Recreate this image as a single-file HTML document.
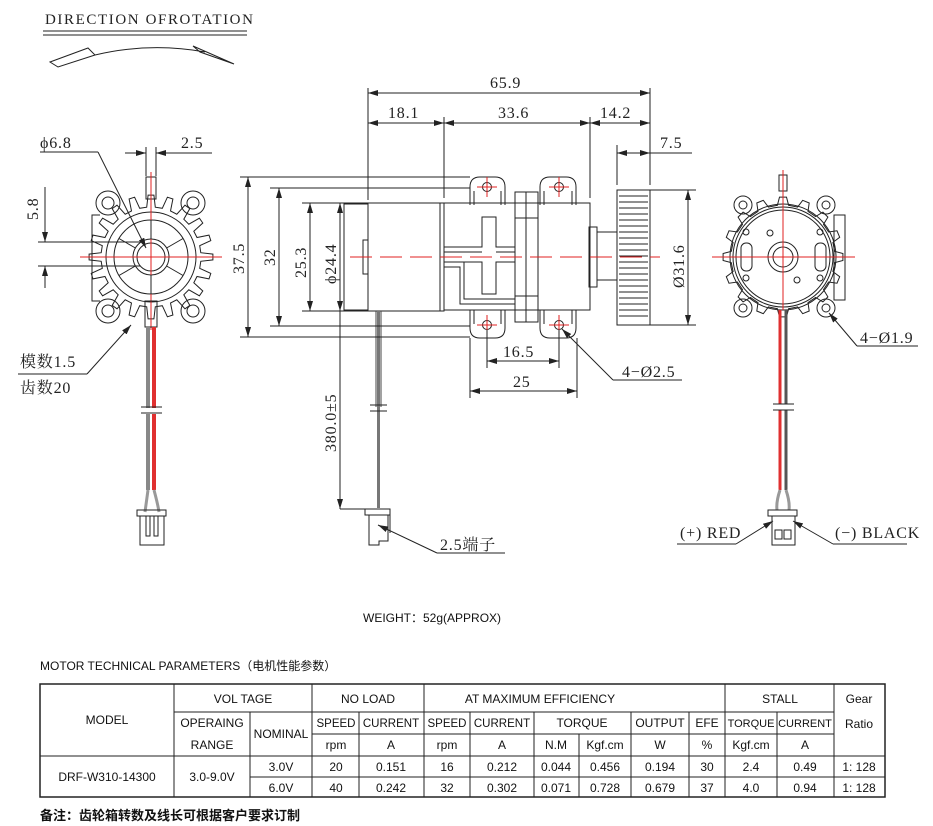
<!DOCTYPE html>
<html><head><meta charset="utf-8"><style>
html,body{margin:0;padding:0;background:#fff;}
svg{display:block;}
.s{font-family:"Liberation Serif","Noto Serif CJK SC",serif;font-size:16px;fill:#222;letter-spacing:0.8px;}
.t{font-family:"Liberation Sans","Noto Sans CJK SC",sans-serif;font-size:12px;fill:#111;}
.k{stroke:#222;fill:none;stroke-width:1;}
.r{stroke:#e02020;fill:none;stroke-width:1;}
</style></head><body>
<svg id="sv" width="933" height="826" viewBox="0 0 933 826" xmlns="http://www.w3.org/2000/svg">
<defs>
<marker id="a" viewBox="0 0 10 6" refX="10" refY="3" markerWidth="10" markerHeight="6" orient="auto-start-reverse" markerUnits="userSpaceOnUse"><path d="M0,0 L10,3 L0,6 z" fill="#222"/></marker>
</defs>
<text x="45" y="24" class="s" style="font-size:15px;letter-spacing:1.6px">DIRECTION OFROTATION</text>
<line x1="43" y1="31" x2="247" y2="31" class="k"/><line x1="43" y1="35" x2="247" y2="35" class="k"/>
<path d="M50,62 L88,48 L95,55 L58,67 Z M95,55 Q150,42 205,52 M193,46 L200,52 L234,64 Z" class="k"/>

<g id="lg">
<path d="M100,215 h-8 v86 h8" class="k"/>
<g id="gearL"></g>
<circle cx="151" cy="257" r="45" class="k"/>
<circle cx="151" cy="257" r="37" class="k"/>
<circle cx="151" cy="257" r="14" class="k"/>
<circle cx="151" cy="257" r="18" class="k"/>
<circle cx="108" cy="203" r="12" class="k" fill="#fff"/><circle cx="108" cy="203" r="6" class="k"/>
<circle cx="193" cy="203" r="12" class="k" fill="#fff"/><circle cx="193" cy="203" r="6" class="k"/>
<circle cx="108" cy="311" r="12" class="k" fill="#fff"/><circle cx="108" cy="311" r="6" class="k"/>
<circle cx="193" cy="311" r="12" class="k" fill="#fff"/><circle cx="193" cy="311" r="6" class="k"/>
<rect x="146" y="177" width="10" height="22" class="k" fill="#fff"/>
<line x1="151" y1="172" x2="151" y2="330" class="r"/>
<line x1="80" y1="257" x2="222" y2="257" class="r"/>
<line x1="146" y1="147" x2="146" y2="176" class="k"/><line x1="156" y1="147" x2="156" y2="176" class="k"/>
<line x1="125" y1="153" x2="146" y2="153" class="k" marker-end="url(#a)"/><line x1="177" y1="153" x2="156" y2="153" class="k" marker-end="url(#a)"/>
<line x1="156" y1="153" x2="212" y2="153" class="k"/>
<text x="181" y="148" class="s">2.5</text>
<text x="40" y="148" class="s">ϕ6.8</text>
<line x1="40" y1="152" x2="98" y2="152" class="k"/>
<line x1="98" y1="152" x2="146" y2="248" class="k" marker-end="url(#a)"/>
<line x1="38" y1="242" x2="145" y2="242" class="k"/><line x1="38" y1="266" x2="140" y2="266" class="k"/>
<line x1="45" y1="187" x2="45" y2="242" class="k" marker-end="url(#a)"/>
<line x1="45" y1="288" x2="45" y2="266" class="k" marker-end="url(#a)"/>
<text x="0" y="0" class="s" transform="translate(38,220) rotate(-90)">5.8</text>
<rect x="145" y="301" width="12" height="26" class="k"/>
<line x1="148" y1="327" x2="148" y2="408" stroke="#888" stroke-width="4"/>
<line x1="154" y1="327" x2="154" y2="408" stroke="#e03030" stroke-width="4"/>
<line x1="148" y1="414" x2="148" y2="490" stroke="#888" stroke-width="4"/>
<line x1="154" y1="414" x2="154" y2="490" stroke="#e03030" stroke-width="4"/>
<path d="M148,490 Q146,505 145,512 M154,490 Q158,505 159,512" stroke="#999" stroke-width="3" fill="none"/>
<line x1="141" y1="407" x2="162" y2="407" class="k"/><line x1="141" y1="413" x2="162" y2="413" class="k"/>
<rect x="137" y="510" width="29" height="6" class="k"/>
<rect x="140" y="516" width="24" height="29" class="k"/>
<path d="M146,516 v20 h4 v-20 M154,516 v20 h4 v-20" class="k"/>
<text x="20" y="367" class="s">模数1.5</text>
<line x1="18" y1="374" x2="87" y2="374" class="k"/>
<line x1="87" y1="374" x2="131" y2="325" class="k" marker-end="url(#a)"/>
<text x="20" y="393" class="s">齿数20</text>
</g>

<g>
<rect x="368" y="203" width="76" height="108" class="k"/>
<rect x="344" y="204" width="24" height="106" class="k"/>
<path d="M368,240 h-5 v34 h5" class="k"/>
<line x1="440" y1="203" x2="440" y2="311" class="k"/>
<rect x="444" y="203" width="146" height="107" class="k"/>
<path d="M444,247 h38 v-30 h14 v30 h19 M444,252 h38 M496,252 h19 M444,262 h20 v37 h51 M444,267 h16 v37 h55 M464,262 h18 v32 h14 v-32 h19" class="k"/>
<rect x="515" y="192" width="23" height="130" class="k" fill="#fff"/>
<line x1="526" y1="192" x2="526" y2="322" class="k"/>
<line x1="515" y1="218" x2="538" y2="218" class="k"/><line x1="515" y1="296" x2="538" y2="296" class="k"/>
<path d="M470,205 v-18 q0,-10 10,-10 h15 q10,0 10,10 v18" class="k" fill="#fff"/>
<path d="M540,205 v-18 q0,-10 10,-10 h16 q10,0 10,10 v18" class="k" fill="#fff"/>
<path d="M470,310 v18 q0,10 10,10 h15 q10,0 10,-10 v-18" class="k" fill="#fff"/>
<path d="M540,310 v18 q0,10 10,10 h16 q10,0 10,-10 v-18" class="k" fill="#fff"/>
<path d="M474,205 v-14 M501,205 v-14 M544,205 v-14 M572,205 v-14 M474,310 v14 M501,310 v14 M544,310 v14 M572,310 v14" class="k"/>
<circle cx="487" cy="187" r="4.5" class="k"/><circle cx="559" cy="187" r="4.5" class="k"/>
<circle cx="487" cy="325" r="4.5" class="k"/><circle cx="559" cy="325" r="4.5" class="k"/>
<path d="M477,187h20M487,177v20M549,187h20M559,177v20M477,325h20M487,315v20M549,325h20M559,315v20" class="r"/>
<rect x="589" y="227" width="8" height="60" class="k"/>
<rect x="597" y="232" width="20" height="48" class="k"/>
<rect x="617" y="190" width="33" height="135" class="k"/>
<g id="gteeth"></g>
<line x1="350" y1="257" x2="660" y2="257" class="r" stroke-dasharray="22,8"/>
<line x1="376" y1="311" x2="376" y2="407" stroke="#444" stroke-width="1"/><line x1="381" y1="311" x2="381" y2="407" stroke="#444" stroke-width="1"/>
<line x1="378.5" y1="311" x2="378.5" y2="508" stroke="#777" stroke-width="3"/>
<line x1="370" y1="405" x2="387" y2="405" class="k"/><line x1="370" y1="411" x2="387" y2="411" class="k"/>
<rect x="365" y="509" width="25" height="6" class="k" fill="#fff"/>
<path d="M369,515 v30 h10 v-4 h9 v-26" class="k"/>
<line x1="390" y1="515" x2="390" y2="533" class="k"/>
<text x="440" y="550" class="s">2.5端子</text>
<line x1="437" y1="553" x2="505" y2="553" class="k"/>
<line x1="437" y1="553" x2="378" y2="525" class="k" marker-end="url(#a)"/>
<line x1="368" y1="88" x2="368" y2="200" class="k"/>
<line x1="650" y1="88" x2="650" y2="185" class="k"/>
<line x1="444" y1="117" x2="444" y2="198" class="k"/>
<line x1="590" y1="117" x2="590" y2="198" class="k"/>
<line x1="617" y1="145" x2="617" y2="185" class="k"/>
<line x1="368" y1="93" x2="650" y2="93" class="k" marker-start="url(#a)" marker-end="url(#a)"/>
<text x="490" y="88" class="s">65.9</text>
<line x1="368" y1="123" x2="444" y2="123" class="k" marker-start="url(#a)" marker-end="url(#a)"/>
<text x="388" y="118" class="s">18.1</text>
<line x1="444" y1="123" x2="590" y2="123" class="k" marker-start="url(#a)" marker-end="url(#a)"/>
<text x="498" y="118" class="s">33.6</text>
<line x1="590" y1="123" x2="650" y2="123" class="k" marker-start="url(#a)" marker-end="url(#a)"/>
<text x="600" y="118" class="s">14.2</text>
<line x1="617" y1="153" x2="650" y2="153" class="k" marker-start="url(#a)" marker-end="url(#a)"/>
<line x1="650" y1="153" x2="692" y2="153" class="k"/>
<text x="660" y="148" class="s">7.5</text>
<line x1="240" y1="177" x2="470" y2="177" class="k"/>
<line x1="240" y1="337" x2="470" y2="337" class="k"/>
<line x1="270" y1="188" x2="470" y2="188" class="k"/>
<line x1="270" y1="326" x2="470" y2="326" class="k"/>
<line x1="302" y1="203" x2="368" y2="203" class="k"/>
<line x1="302" y1="311" x2="368" y2="311" class="k"/>
<line x1="248" y1="177" x2="248" y2="337" class="k" marker-start="url(#a)" marker-end="url(#a)"/>
<text class="s" transform="translate(244,274) rotate(-90)">37.5</text>
<line x1="279" y1="188" x2="279" y2="326" class="k" marker-start="url(#a)" marker-end="url(#a)"/>
<text class="s" transform="translate(275,266) rotate(-90)">32</text>
<line x1="310" y1="203" x2="310" y2="311" class="k" marker-start="url(#a)" marker-end="url(#a)"/>
<text class="s" transform="translate(306,278) rotate(-90)">25.3</text>
<line x1="340" y1="203" x2="340" y2="311" class="k" marker-start="url(#a)" marker-end="url(#a)"/>
<text class="s" transform="translate(336,284) rotate(-90)">ϕ24.4</text>
<line x1="340" y1="311" x2="340" y2="509" class="k" marker-end="url(#a)"/>
<line x1="340" y1="509" x2="365" y2="509" class="k"/>
<text class="s" transform="translate(336,452) rotate(-90)">380.0±5</text>
<line x1="650" y1="190" x2="696" y2="190" class="k"/><line x1="650" y1="325" x2="696" y2="325" class="k"/>
<line x1="688" y1="190" x2="688" y2="325" class="k" marker-start="url(#a)" marker-end="url(#a)"/>
<text class="s" transform="translate(684,288) rotate(-90)">Ø31.6</text>
<line x1="487" y1="330" x2="487" y2="368" class="k"/><line x1="559" y1="330" x2="559" y2="368" class="k"/>
<line x1="470" y1="338" x2="470" y2="398" class="k"/><line x1="577" y1="338" x2="577" y2="398" class="k"/>
<line x1="487" y1="361" x2="559" y2="361" class="k" marker-start="url(#a)" marker-end="url(#a)"/>
<text x="503" y="357" class="s">16.5</text>
<line x1="470" y1="391" x2="577" y2="391" class="k" marker-start="url(#a)" marker-end="url(#a)"/>
<text x="513" y="387" class="s">25</text>
<line x1="562" y1="329" x2="613" y2="380" class="k" marker-start="url(#a)"/>
<line x1="613" y1="380" x2="682" y2="380" class="k"/>
<text x="622" y="377" class="s">4−Ø2.5</text>
</g>

<g>
<g id="gearR"></g>
<rect x="834" y="215" width="11" height="85" class="k" fill="#fff"/>
<circle cx="783" cy="257" r="53" class="k" fill="#fff"/>
<circle cx="783" cy="257" r="50" class="k"/>
<circle cx="783" cy="257" r="47" class="k"/>
<circle cx="743" cy="205" r="9" class="k" fill="#fff"/><circle cx="743" cy="205" r="4" class="k"/>
<circle cx="826" cy="205" r="9" class="k" fill="#fff"/><circle cx="826" cy="205" r="4" class="k"/>
<circle cx="743" cy="308" r="9" class="k" fill="#fff"/><circle cx="743" cy="308" r="4" class="k"/>
<circle cx="826" cy="308" r="9" class="k" fill="#fff"/><circle cx="826" cy="308" r="4" class="k"/>
<circle cx="783" cy="257" r="15" class="k"/><circle cx="783" cy="257" r="10" class="k"/>
<rect x="741" y="243" width="11" height="28" rx="5" class="k"/>
<rect x="815" y="243" width="11" height="28" rx="5" class="k"/>
<circle cx="746" cy="232" r="3" class="k"/><circle cx="746" cy="278" r="3" class="k"/>
<circle cx="820" cy="232" r="3" class="k"/><circle cx="820" cy="278" r="3" class="k"/>
<circle cx="770" cy="233" r="3" class="k"/><circle cx="797" cy="280" r="3" class="k"/>
<rect x="779" y="175" width="8" height="16" class="k" fill="#fff"/>
<line x1="783" y1="170" x2="783" y2="310" class="r"/>
<line x1="712" y1="257" x2="855" y2="257" class="r"/>
<line x1="780" y1="310" x2="780" y2="404" stroke="#e03030" stroke-width="3"/>
<line x1="786" y1="310" x2="786" y2="404" stroke="#555" stroke-width="3"/>
<line x1="780" y1="410" x2="780" y2="490" stroke="#e03030" stroke-width="3"/>
<line x1="786" y1="410" x2="786" y2="490" stroke="#555" stroke-width="3"/>
<path d="M780,490 Q776,502 777,510 M786,490 Q790,502 789,510" stroke="#999" stroke-width="3" fill="none"/>
<line x1="773" y1="404" x2="794" y2="404" class="k"/><line x1="773" y1="410" x2="794" y2="410" class="k"/>
<rect x="768" y="510" width="29" height="6" class="k" fill="#fff"/>
<rect x="772" y="516" width="23" height="29" class="k"/>
<rect x="775" y="530" width="7" height="9" class="k"/><rect x="784" y="530" width="7" height="9" class="k"/>
<text x="680" y="538" class="s">(+) RED</text>
<line x1="677" y1="544" x2="736" y2="544" class="k"/>
<line x1="736" y1="544" x2="773" y2="521" class="k" marker-end="url(#a)"/>
<text x="835" y="538" class="s">(−) BLACK</text>
<line x1="833" y1="544" x2="907" y2="544" class="k"/>
<line x1="833" y1="544" x2="793" y2="521" class="k" marker-end="url(#a)"/>
<line x1="829" y1="313" x2="857" y2="346" class="k" marker-start="url(#a)"/>
<line x1="857" y1="346" x2="918" y2="346" class="k"/>
<text x="860" y="343" class="s">4−Ø1.9</text>
</g>

<text x="363" y="622" class="t">WEIGHT：52g(APPROX)</text>
<text x="40" y="670" class="t">MOTOR TECHNICAL PARAMETERS（电机性能参数）</text>

<g stroke="#222" stroke-width="1" fill="none">
<rect x="40" y="684" width="845" height="113" stroke-width="1.5"/>
<line x1="174" y1="712" x2="834" y2="712"/>
<line x1="312" y1="734" x2="834" y2="734"/>
<line x1="40" y1="756" x2="885" y2="756"/>
<line x1="250" y1="777" x2="885" y2="777"/>
<line x1="174" y1="684" x2="174" y2="797"/>
<line x1="250" y1="712" x2="250" y2="797"/>
<line x1="312" y1="684" x2="312" y2="797"/>
<line x1="359" y1="712" x2="359" y2="797"/>
<line x1="424" y1="684" x2="424" y2="797"/>
<line x1="470" y1="712" x2="470" y2="797"/>
<line x1="534" y1="712" x2="534" y2="797"/>
<line x1="579" y1="734" x2="579" y2="797"/>
<line x1="631" y1="712" x2="631" y2="797"/>
<line x1="689" y1="712" x2="689" y2="797"/>
<line x1="725" y1="684" x2="725" y2="797"/>
<line x1="777" y1="712" x2="777" y2="797"/>
<line x1="834" y1="684" x2="834" y2="797"/>
</g>
<g class="t" text-anchor="middle">
<text x="107" y="724">MODEL</text>
<text x="243" y="703">VOL TAGE</text>
<text x="368" y="703">NO LOAD</text>
<text x="540" y="703">AT MAXIMUM EFFICIENCY</text>
<text x="780" y="703">STALL</text>
<text x="859" y="703">Gear</text>
<text x="859" y="728">Ratio</text>
<text x="212" y="727">OPERAING</text>
<text x="212" y="749">RANGE</text>
<text x="281" y="738">NOMINAL</text>
<text x="336" y="727" style="font-size:11.5px">SPEED</text><text x="391" y="727" style="font-size:11.5px">CURRENT</text>
<text x="447" y="727" style="font-size:11.5px">SPEED</text><text x="502" y="727" style="font-size:11.5px">CURRENT</text>
<text x="582" y="727">TORQUE</text><text x="660" y="727">OUTPUT</text>
<text x="707" y="727">EFE</text><text x="751" y="727" style="font-size:11px">TORQUE</text><text x="805" y="727" style="font-size:11px">CURRENT</text>
<text x="336" y="749">rpm</text><text x="391" y="749">A</text><text x="447" y="749">rpm</text><text x="502" y="749">A</text>
<text x="556" y="749">N.M</text><text x="605" y="749">Kgf.cm</text><text x="660" y="749">W</text><text x="707" y="749">%</text>
<text x="751" y="749">Kgf.cm</text><text x="805" y="749">A</text>
<text x="107" y="781">DRF-W310-14300</text>
<text x="212" y="781">3.0-9.0V</text>
<text x="281" y="771">3.0V</text><text x="336" y="771">20</text><text x="391" y="771">0.151</text><text x="447" y="771">16</text><text x="502" y="771">0.212</text><text x="556" y="771">0.044</text><text x="605" y="771">0.456</text><text x="660" y="771">0.194</text><text x="707" y="771">30</text><text x="751" y="771">2.4</text><text x="805" y="771">0.49</text><text x="859" y="771">1: 128</text>
<text x="281" y="792">6.0V</text><text x="336" y="792">40</text><text x="391" y="792">0.242</text><text x="447" y="792">32</text><text x="502" y="792">0.302</text><text x="556" y="792">0.071</text><text x="605" y="792">0.728</text><text x="660" y="792">0.679</text><text x="707" y="792">37</text><text x="751" y="792">4.0</text><text x="805" y="792">0.94</text><text x="859" y="792">1: 128</text>
</g>
<text x="40" y="820" class="t" style="font-weight:bold;font-size:13px">备注：齿轮箱转数及线长可根据客户要求订制</text>
</svg>
<script>
(function(){
var NS="http://www.w3.org/2000/svg";
function gear(id,cx,cy,n,ro,ri){
 var d="";for(var i=0;i<n;i++){
  var a=i*2*Math.PI/n, w=Math.PI/n;
  var pts=[[a-w*0.55,ri],[a-w*0.3,ro],[a+w*0.3,ro],[a+w*0.55,ri],[a+w*1.45,ri]];
  pts.forEach(function(p,j){var x=cx+p[1]*Math.sin(p[0]),y=cy-p[1]*Math.cos(p[0]);d+=(i==0&&j==0?"M":"L")+x.toFixed(1)+","+y.toFixed(1);});
 }
 d+="Z";var p=document.createElementNS(NS,"path");p.setAttribute("d",d);p.setAttribute("class","k");p.setAttribute("fill","#fff");
 document.getElementById(id).appendChild(p);
}
gear("gearL",151,257,20,62,50);
gear("gearR",783,257,16,60,52);
var g=document.getElementById("gearL");
for(var i=0;i<6;i++){var a=i*Math.PI/3+Math.PI/6;
 var l=document.createElementNS(NS,"line");
 l.setAttribute("x1",151+18*Math.cos(a));l.setAttribute("y1",257+18*Math.sin(a));
 l.setAttribute("x2",151+37*Math.cos(a));l.setAttribute("y2",257+37*Math.sin(a));
 l.setAttribute("class","k");g.parentNode.appendChild(l);}
var t=document.getElementById("gteeth");
for(var y=196;y<322;y+=6){var r=document.createElementNS(NS,"line");
 r.setAttribute("x1",619);r.setAttribute("x2",648);r.setAttribute("y1",y);r.setAttribute("y2",y);
 r.setAttribute("stroke","#222");r.setAttribute("stroke-width",(y%18==0)?2.5:1);t.appendChild(r);}
})();
</script>
</body></html>
